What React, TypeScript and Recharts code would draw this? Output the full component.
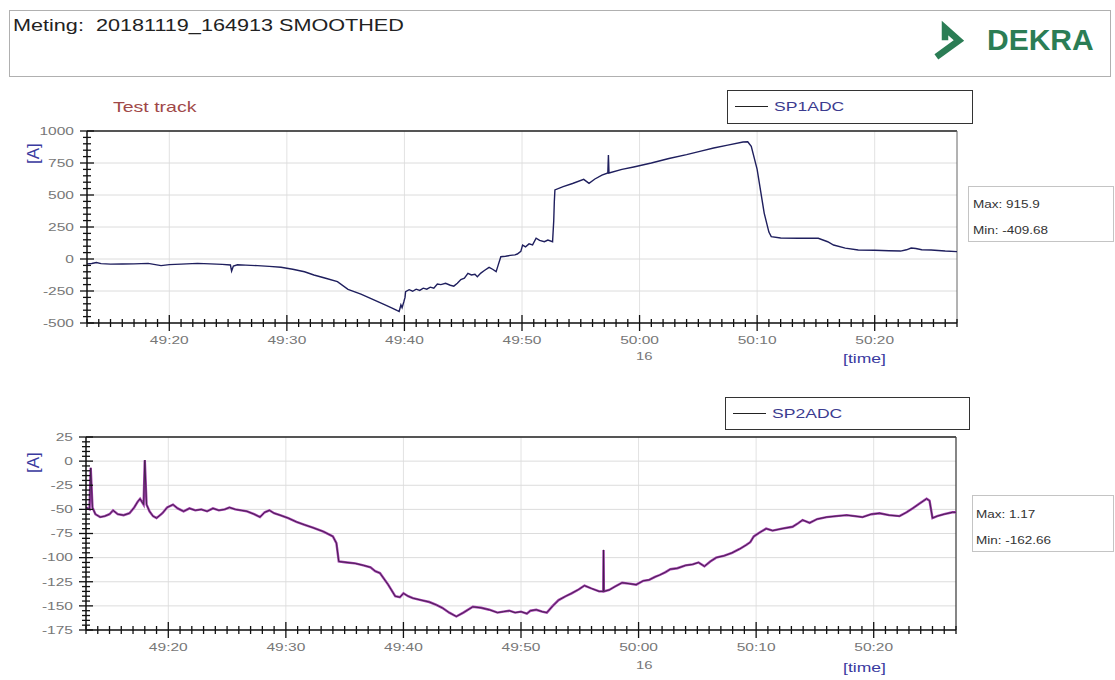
import React from 'react';
import { LineChart, Line, XAxis, YAxis, ReferenceLine } from 'recharts';

// ---- time axis (seconds after 16:49:00) ----
const xMajorValues = [20, 30, 40, 50, 60, 70, 80];
const xTickLabels = ['49:20', '49:30', '49:40', '49:50', '50:00', '50:10', '50:20'];

// ---- SP1ADC ----
const sp1Time = [
  13.0, 13.4, 13.8, 14.2, 15.0, 16.0, 17.0, 18.2, 19.3, 20.0,
  21.0, 22.4, 23.5, 24.5, 25.2, 25.3, 25.45, 25.8, 26.5, 27.5,
  28.5, 29.5, 30.5, 31.5, 32.3, 33.3, 34.3, 35.2, 36.3, 37.4,
  38.4, 39.0, 39.4, 39.55, 39.7, 39.8, 39.95, 40.05, 40.1, 40.4,
  40.7, 41.0, 41.3, 41.6, 41.9, 42.2, 42.5, 42.8, 43.1, 43.5,
  43.9, 44.2, 44.5, 44.8, 45.1, 45.4, 45.7, 46.0, 46.2, 46.5,
  46.8, 47.2, 47.5, 47.8, 48.0, 48.2, 48.6, 49.0, 49.4, 49.6,
  49.9, 50.05, 50.3, 50.6, 50.9, 51.2, 51.5, 51.9, 52.2, 52.6,
  52.7, 52.75, 52.8, 53.5, 54.3, 55.25, 55.7, 56.2, 56.8, 57.3,
  57.35, 57.4, 58.5, 59.5, 61.0, 62.5, 64.0, 65.3, 66.3, 67.5,
  68.8, 69.2, 69.5, 70.0, 70.6, 71.0, 71.2, 72.0, 73.5, 75.2,
  76.0, 76.5, 77.5, 78.6, 80.0, 81.2, 82.2, 82.7, 83.1, 83.5,
  84.0, 84.8, 86.0, 87.0,
];
const sp1Value = [
  -38, -35, -28, -36, -40, -39, -38, -34, -52, -44,
  -40, -34, -38, -42, -47, -95, -55, -45, -48, -52,
  -58, -65, -80, -100, -125, -150, -177, -237, -275, -320,
  -360, -385, -404, -410, -359, -380, -334, -300, -255, -240,
  -252, -236, -245, -228, -236, -220, -228, -195, -200, -190,
  -205, -212, -190, -160, -150, -112, -125, -120, -138, -110,
  -90, -65, -80, -99, -40, 18, 22, 28, 32, 39,
  60, 109, 95, 118, 110, 162, 145, 135, 148, 135,
  300, 450, 540, 565, 590, 622, 591, 625, 655, 672,
  812, 672, 700, 719, 750, 785, 815, 845, 867, 890,
  914, 916, 880, 700, 359, 210, 175, 164, 162, 162,
  135, 109, 85, 70, 68, 65, 62, 72, 86, 82,
  72, 70, 62, 58,
];
const sp1YTickLabels = ['-500', '-250', '0', '250', '500', '750', '1000'];

// ---- SP2ADC ----
const sp2Time = [
  13.0, 13.3, 13.4, 13.55, 13.8, 14.2, 14.6, 15.0, 15.3, 15.7,
  16.2, 16.7, 17.1, 17.4, 17.6, 17.9, 18.0, 18.15, 18.4, 18.7,
  19.0, 19.5, 19.9, 20.4, 20.8, 21.3, 21.8, 22.3, 22.8, 23.3,
  23.8, 24.3, 24.8, 25.2, 25.7, 26.2, 26.7, 27.3, 27.8, 28.2,
  28.6, 29.0, 29.5, 30.2, 30.9, 31.6, 32.3, 33.2, 34.0, 34.3,
  34.5, 35.2, 35.9, 36.6, 37.2, 37.6, 38.0, 38.7, 39.3, 39.7,
  40.0, 40.4, 40.8, 41.5, 42.2, 42.8, 43.3, 43.9, 44.5, 45.1,
  45.9, 46.6, 47.3, 48.0, 48.5, 49.0, 49.5, 50.0, 50.5, 50.8,
  51.3, 51.8, 52.2, 52.7, 53.2, 53.8, 54.3, 54.9, 55.4, 56.0,
  56.65, 57.0, 57.02, 57.05, 57.5, 58.0, 58.6, 59.2, 59.8, 60.4,
  60.9, 61.4, 61.8, 62.3, 62.7, 63.3, 64.0, 64.6, 65.1, 65.6,
  66.1, 66.6, 67.3, 67.95, 68.6, 69.15, 69.5, 69.8, 70.3, 70.85,
  71.4, 72.2, 73.1, 73.5, 73.95, 74.55, 75.2, 76.0, 76.8, 77.7,
  78.4, 79.05, 79.8, 80.5, 81.3, 82.2, 82.8, 83.3, 83.9, 84.5,
  84.75, 85.0, 85.4, 86.0, 86.7, 87.0,
];
const sp2Value = [
  -48, -50, -7, -48, -55, -58, -57, -55, -51, -55,
  -56, -54, -48, -42, -39, -45, 1, -45, -52, -57,
  -59, -54, -48, -45, -49, -52, -49, -51, -50, -52,
  -49, -51, -50, -48, -50, -51, -52, -55, -58, -53,
  -51, -54, -56, -59, -63, -66, -69, -73, -78, -85,
  -104, -105, -106, -108, -110, -114, -116, -128, -140, -141,
  -137, -140, -142, -144, -146, -149, -152, -157, -161, -157,
  -151, -152, -154, -157, -156, -155, -157, -156, -158, -155,
  -154, -156, -157, -150, -144, -140, -137, -133, -129, -132,
  -135, -135, -92, -135, -133.5, -130, -126, -127, -128, -124,
  -123, -120, -118, -115, -112, -111, -108, -107, -105, -109,
  -104, -100, -98, -95, -91, -87, -84, -78, -74, -70,
  -72, -70, -68, -65, -61, -64, -60, -58, -57, -56,
  -57, -58, -55, -54, -56, -57, -53, -49, -44, -39,
  -41, -59, -57, -55, -53, -53,
];
const sp2YTickLabels = ['-175', '-150', '-125', '-100', '-75', '-50', '-25', '0', '25'];

const FONT = "'Liberation Sans', Arial, sans-serif";
const SX = 1.35;

const range = (a: number, b: number, s: number) => {
  const r: number[] = [];
  for (let v = a; v <= b + 1e-9; v += s) r.push(v);
  return r;
};

const sp1Data = sp1Time.map((t, i) => ({ t, v: sp1Value[i] }));
const sp2Data = sp2Time.map((t, i) => ({ t, v: sp2Value[i] }));
const xTicks = range(13, 87, 1);

const XTick = (props: any) => {
  const { x, y, payload } = props;
  const idx = xMajorValues.indexOf(payload.value);
  const major = idx >= 0;
  const len = major ? 8 : 4;
  return (
    <g>
      <line x1={x} x2={x} y1={y - len} y2={y + len} stroke="#111" strokeWidth={1.3} />
      {major && (
        <text
          transform={`translate(${x},${y + 21}) scale(${SX},1)`}
          textAnchor="middle"
          fontSize={11.5}
          fill="#777"
          fontFamily={FONT}
        >
          {xTickLabels[idx]}
        </text>
      )}
    </g>
  );
};

const makeYTick = (labels: string[]) => (props: any) => {
  const { x, y, payload } = props;
  const idx = labels.findIndex((l) => Number(l) === payload.value);
  const major = idx >= 0;
  const len = major ? 7 : 4;
  return (
    <g>
      <line x1={x - len} x2={x + len} y1={y} y2={y} stroke="#111" strokeWidth={1.3} />
      {major && (
        <text
          transform={`translate(${x - 13},${y}) scale(${SX},1)`}
          textAnchor="end"
          dominantBaseline="central"
          fontSize={11.5}
          fill="#777"
          fontFamily={FONT}
        >
          {labels[idx]}
        </text>
      )}
    </g>
  );
};

const Txt = ({ left, top, size, color, children, sx = SX, weight = 400 }: any) => (
  <div
    style={{
      position: 'absolute',
      left,
      top,
      fontSize: size,
      color,
      fontWeight: weight,
      whiteSpace: 'nowrap',
      lineHeight: 1,
      transform: `scaleX(${sx})`,
      transformOrigin: 'left top',
    }}
  >
    {children}
  </div>
);

const VLabel = ({ left, top, children }: any) => (
  <div
    style={{
      position: 'absolute',
      left,
      top,
      fontSize: 17,
      color: '#3a3aa0',
      lineHeight: 1,
      transform: 'rotate(-90deg)',
      transformOrigin: 'left top',
      whiteSpace: 'nowrap',
    }}
  >
    {children}
  </div>
);

const Box = ({ left, top, width, height, border }: any) => (
  <div
    style={{
      position: 'absolute',
      left,
      top,
      width,
      height,
      border,
      boxSizing: 'border-box',
    }}
  />
);

const YW = 60;
const XH = 30;

export default function App() {
  const sp1YTicks = range(-500, 1000, 50);
  const sp2YTicks = range(-175, 25, 5);
  const sp1Major = sp1YTickLabels.map(Number);
  const sp2Major = sp2YTickLabels.map(Number);
  return (
    <div
      style={{
        position: 'absolute',
        left: 0,
        top: 0,
        width: 1115,
        height: 680,
        background: '#fff',
        fontFamily: FONT,
        overflow: 'hidden',
      }}
    >
      {/* header */}
      <Box left={9} top={10} width={1102} height={67} border="1px solid #b0b0b0" />
      <Txt left={13} top={17} size={16.5} color="#222" sx={1.31}>
        Meting:&nbsp;&nbsp;20181119_164913 SMOOTHED
      </Txt>
      <svg style={{ position: 'absolute', left: 0, top: 0 }} width={1115} height={80}>
        <polyline
          points="945,37 945,28 959,40.5 939,55"
          fill="none"
          stroke="#2b7d55"
          strokeWidth={6.5}
          strokeLinejoin="miter"
          strokeLinecap="square"
        />
      </svg>
      <Txt left={987} top={25} size={30} color="#2b7d55" sx={1} weight={700}>
        DEKRA
      </Txt>

      {/* top chart */}
      <Txt left={113} top={99} size={15} color="#a04848" sx={1.3}>
        Test track
      </Txt>
      <VLabel left={25} top={164}>[A]</VLabel>
      <div style={{ position: 'absolute', left: 0, top: 0 }}>
        <LineChart
          width={1115}
          height={380}
          data={sp1Data}
          margin={{ top: 131, right: 158, bottom: 57 - XH, left: 87 - YW }}
        >
          {xMajorValues.map((v) => (
            <ReferenceLine key={'vx' + v} x={v} stroke="#e2e2e2" strokeWidth={1} />
          ))}
          {sp1Major.map((v) => (
            <ReferenceLine key={'hy' + v} y={v} stroke="#dcdcdc" strokeWidth={1} />
          ))}
          <ReferenceLine y={1000} stroke="#222" strokeWidth={1.5} />
          <ReferenceLine x={87} stroke="#666" strokeWidth={1} />
          <XAxis
            dataKey="t"
            type="number"
            domain={[13, 87]}
            allowDataOverflow
            ticks={xTicks}
            interval={0}
            tickSize={0}
            tickMargin={0}
            height={XH}
            tickLine={false}
            axisLine={{ stroke: '#111', strokeWidth: 1.5 }}
            tick={XTick}
          />
          <YAxis
            type="number"
            domain={[-500, 1000]}
            allowDataOverflow
            ticks={sp1YTicks}
            interval={0}
            tickSize={0}
            tickMargin={0}
            width={YW}
            tickLine={false}
            axisLine={{ stroke: '#111', strokeWidth: 1.5 }}
            tick={makeYTick(sp1YTickLabels)}
          />
          <Line
            dataKey="v"
            type="linear"
            stroke="#1f1f5e"
            strokeWidth={1.4}
            dot={false}
            isAnimationActive={false}
          />
        </LineChart>
      </div>
      <Txt left={636} top={351} size={11} color="#777" sx={SX}>16</Txt>
      <Txt left={843} top={352} size={13} color="#3a3aa0" sx={SX}>[time]</Txt>
      <Box left={727} top={90} width={246} height={34} border="1.5px solid #333" />
      <div style={{ position: 'absolute', left: 735, top: 106, width: 33, height: 1, background: '#222' }} />
      <Txt left={774} top={100} size={13} color="#3b3b8f" sx={SX}>SP1ADC</Txt>
      <Box left={968} top={186} width={146} height={56} border="1px solid #c4c4c4" />
      <Txt left={973} top={200} size={10} color="#333" sx={SX}>Max: 915.9</Txt>
      <Txt left={973} top={226} size={10} color="#333" sx={SX}>Min: -409.68</Txt>

      {/* bottom chart */}
      <VLabel left={25} top={473}>[A]</VLabel>
      <div style={{ position: 'absolute', left: 0, top: 380 }}>
        <LineChart
          width={1115}
          height={300}
          data={sp2Data}
          margin={{ top: 57, right: 159, bottom: 50 - XH, left: 86 - YW }}
        >
          {xMajorValues.map((v) => (
            <ReferenceLine key={'vx' + v} x={v} stroke="#e2e2e2" strokeWidth={1} />
          ))}
          {sp2Major.map((v) => (
            <ReferenceLine key={'hy' + v} y={v} stroke="#dcdcdc" strokeWidth={1} />
          ))}
          <ReferenceLine y={25} stroke="#222" strokeWidth={1.5} />
          <ReferenceLine x={87} stroke="#444" strokeWidth={1.3} />
          <XAxis
            dataKey="t"
            type="number"
            domain={[13, 87]}
            allowDataOverflow
            ticks={xTicks}
            interval={0}
            tickSize={0}
            tickMargin={0}
            height={XH}
            tickLine={false}
            axisLine={{ stroke: '#111', strokeWidth: 1.5 }}
            tick={XTick}
          />
          <YAxis
            type="number"
            domain={[-175, 25]}
            allowDataOverflow
            ticks={sp2YTicks}
            interval={0}
            tickSize={0}
            tickMargin={0}
            width={YW}
            tickLine={false}
            axisLine={{ stroke: '#111', strokeWidth: 1.5 }}
            tick={makeYTick(sp2YTickLabels)}
          />
          <Line
            dataKey="v"
            type="linear"
            stroke="#a23cae"
            strokeWidth={2.4}
            dot={false}
            isAnimationActive={false}
          />
          <Line
            dataKey="v"
            type="linear"
            stroke="#3c1f45"
            strokeWidth={0.9}
            dot={false}
            isAnimationActive={false}
            legendType="none"
          />
        </LineChart>
      </div>
      <Txt left={636} top={660} size={11} color="#777" sx={SX}>16</Txt>
      <Txt left={843} top={661} size={13} color="#3a3aa0" sx={SX}>[time]</Txt>
      <Box left={725} top={397} width={245} height={33} border="1.5px solid #333" />
      <div style={{ position: 'absolute', left: 733, top: 413, width: 33, height: 1, background: '#222' }} />
      <Txt left={772} top={407} size={13} color="#3b3b8f" sx={SX}>SP2ADC</Txt>
      <Box left={972} top={495} width={142} height={57} border="1px solid #c4c4c4" />
      <Txt left={976} top={510} size={10} color="#333" sx={SX}>Max: 1.17</Txt>
      <Txt left={976} top={536} size={10} color="#333" sx={SX}>Min: -162.66</Txt>
    </div>
  );
}
